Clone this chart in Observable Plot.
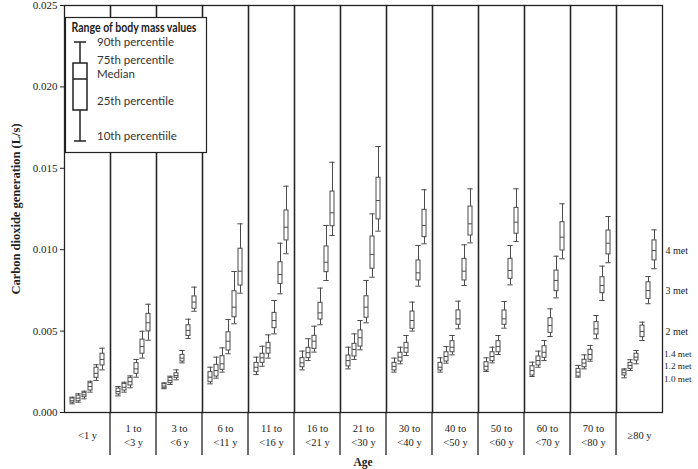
<!DOCTYPE html>
<html><head><meta charset="utf-8">
<script src="https://cdn.jsdelivr.net/npm/d3@7"></script>
<script src="https://cdn.jsdelivr.net/npm/@observablehq/plot@0.6"></script>
<style>
body{margin:0;background:#fff}
#wrap{position:relative;width:698px;height:469px;overflow:hidden}
#wrap svg{position:absolute;left:0;top:0}
g[aria-label="y-axis label"] text{font-weight:bold;font-size:12.5px}
</style></head><body><div id="wrap"></div>
<script>
// Age groups (x facets)
const groups = ["<1 y","1 to\n<3 y","3 to\n<6 y","6 to\n<11 y","11 to\n<16 y","16 to\n<21 y","21 to\n<30 y","30 to\n<40 y","40 to\n<50 y","50 to\n<60 y","60 to\n<70 y","70 to\n<80 y","\u226580 y"];
// Activity levels (boxes within each age group)
const mets = ["1.0","1.2","1.4","2","3","4"];
const metLabels = ["1.0 met","1.2 met","1.4 met","2 met","3 met","4 met"];
// Values in 10^-3 L/s, one row per age group, one column per met level
const p90 = [
  [0.94,1.15,1.31,1.92,2.93,3.95],
  [1.60,1.86,2.25,3.26,4.99,6.65],
  [1.82,2.23,2.62,3.81,5.73,7.70],
  [2.78,3.40,3.97,5.71,8.66,11.59],
  [3.40,4.07,4.77,6.88,10.40,13.90],
  [3.77,4.53,5.30,7.64,11.49,15.37],
  [4.01,4.83,5.65,8.11,12.20,16.34],
  [3.34,4.01,4.73,6.78,10.26,13.68],
  [3.36,4.05,4.73,6.84,10.30,13.74],
  [3.36,4.01,4.73,6.82,10.26,13.74],
  [3.09,3.77,4.42,6.37,9.60,12.82],
  [2.89,3.54,4.12,5.96,8.99,12.04],
  [2.68,3.24,3.81,5.55,8.35,11.22]
];
const p75 = [
  [0.86,1.04,1.21,1.80,2.75,3.61],
  [1.47,1.76,2.13,3.03,4.48,6.06],
  [1.74,2.13,2.41,3.54,5.36,7.13],
  [2.48,2.93,3.46,4.93,7.45,10.06],
  [3.05,3.61,4.28,6.12,9.23,12.41],
  [3.34,3.97,4.71,6.74,10.20,13.57],
  [3.50,4.22,5.04,7.14,10.81,14.42],
  [3.05,3.67,4.28,6.20,9.34,12.45],
  [3.05,3.70,4.38,6.27,9.44,12.65],
  [3.09,3.70,4.38,6.27,9.44,12.57],
  [2.84,3.44,4.07,5.79,8.72,11.69],
  [2.68,3.24,3.85,5.55,8.31,11.18],
  [2.58,3.05,3.61,5.34,8.00,10.57]
];
const p50 = [
  [0.72,0.88,1.09,1.60,2.41,3.26],
  [1.29,1.55,1.89,2.68,4.05,5.51],
  [1.62,1.97,2.27,3.34,5.04,6.78],
  [2.17,2.58,2.99,4.38,6.47,8.68],
  [2.78,3.36,3.97,5.65,8.48,11.38],
  [3.05,3.67,4.38,6.12,9.23,12.27],
  [3.19,3.87,4.59,6.47,9.71,13.02],
  [2.83,3.40,3.97,5.65,8.58,11.49],
  [2.78,3.44,4.01,5.75,8.68,11.59],
  [2.84,3.44,4.05,5.75,8.72,11.69],
  [2.58,3.19,3.70,5.34,8.11,10.77],
  [2.48,3.03,3.56,5.14,7.80,10.40],
  [2.44,2.89,3.40,4.98,7.49,9.95]
];
const p25 = [
  [0.60,0.69,0.94,1.35,2.13,2.89],
  [1.11,1.35,1.66,2.38,3.61,4.98],
  [1.49,1.80,2.13,3.13,4.70,6.37],
  [1.86,2.21,2.62,3.81,5.85,7.80],
  [2.48,3.05,3.61,5.18,7.90,10.57],
  [2.78,3.34,3.91,5.71,8.62,11.44],
  [2.83,3.44,4.05,5.82,8.83,11.86],
  [2.58,3.13,3.67,5.14,8.11,10.77],
  [2.58,3.13,3.70,5.39,8.11,10.87],
  [2.58,3.15,3.70,5.39,8.21,10.98],
  [2.27,2.89,3.36,4.89,7.45,9.95],
  [2.21,2.78,3.24,4.79,7.33,9.71],
  [2.27,2.68,3.19,4.63,6.98,9.34]
];
const p10 = [
  [0.53,0.63,0.84,1.25,1.97,2.62],
  [1.02,1.25,1.52,2.17,3.34,4.44],
  [1.46,1.72,2.01,3.05,4.55,6.22],
  [1.76,2.11,2.48,3.61,5.45,7.33],
  [2.33,2.84,3.34,4.83,7.29,9.75],
  [2.62,3.19,3.71,5.39,8.11,10.87],
  [2.68,3.26,3.85,5.51,8.31,11.14],
  [2.48,2.99,3.50,5.00,7.76,10.36],
  [2.48,3.03,3.54,5.14,7.80,10.42],
  [2.52,3.05,3.56,5.18,7.84,10.50],
  [2.21,2.78,3.19,4.67,7.04,9.44],
  [2.17,2.68,3.15,4.53,6.88,9.20],
  [2.13,2.58,2.99,4.42,6.68,8.83]
];
const yTicks = [0, 0.005, 0.010, 0.015, 0.020, 0.025];
const yLabel = "Carbon dioxide generation (L/s)";
const xLabel = "Age";
const legendTitle = "Range of body mass values";
const legendItems = ["90th percentile","75th percentile","Median","25th percentile","10th percentiile"];

const rows = [];
groups.forEach((g, i) => mets.forEach((m, j) => rows.push({
  group: g, met: m,
  p10: p10[i][j] / 1000, p25: p25[i][j] / 1000, p50: p50[i][j] / 1000,
  p75: p75[i][j] / 1000, p90: p90[i][j] / 1000
})));
const last = groups[groups.length - 1];
const ann = metLabels.map((t, j) => ({text: t, y: p50[groups.length - 1][j] / 1000, j}));

const boxStroke = "#4a4a4a";
const annOpts = {fx: () => last, y: "y", text: "text", frameAnchor: "right", textAnchor: "start", fill: "#222"};
const chart = Plot.plot({
  width: 698, height: 469,
  marginLeft: 58, marginRight: 30, marginTop: 5, marginBottom: 57,
  style: {fontFamily: "'Liberation Serif', 'Times New Roman', serif", fontSize: "11px", color: "#222", background: "#fff"},
  fx: {domain: groups, padding: 0, axis: null},
  x: {domain: mets, paddingInner: 0.33, paddingOuter: 0.6, axis: null},
  y: {domain: [0, 0.025]},
  marks: [
    Plot.ruleX(rows, {fx: "group", x: "met", y1: "p10", y2: "p90", stroke: boxStroke, strokeWidth: 1}),
    Plot.barY(rows, {fx: "group", x: "met", y1: "p25", y2: "p75", fill: "#fff", stroke: boxStroke, strokeWidth: 1}),
    Plot.tickY(rows, {fx: "group", x: "met", y: "p50", stroke: boxStroke, strokeWidth: 1}),
    Plot.tickY(rows, {fx: "group", x: "met", y: "p10", stroke: boxStroke, strokeWidth: 1, insetLeft: -0.7, insetRight: -0.7}),
    Plot.tickY(rows, {fx: "group", x: "met", y: "p90", stroke: boxStroke, strokeWidth: 1, insetLeft: -0.7, insetRight: -0.7}),
    Plot.frame({stroke: "#222", strokeWidth: 1.3}),
    Plot.axisY({ticks: yTicks, tickFormat: d3.format(".3f"), tickSize: 4, tickPadding: 3,
      label: yLabel, labelAnchor: "center", labelArrow: "none", labelOffset: 53}),
    Plot.text(groups, {fx: d => d, text: d => d, frameAnchor: "bottom", dy: 22, lineAnchor: "middle", lineHeight: 1.3, fill: "#222", fontSize: 10.5}),
    Plot.text(ann.filter(d => d.j >= 3), {...annOpts, dx: 3, fontSize: 10}),
    Plot.text(ann.filter(d => d.j === 2), {...annOpts, dx: 1.5, dy: -3, fontSize: 9.2}),
    Plot.text(ann.filter(d => d.j === 1), {...annOpts, dx: 1.5, dy: 1, fontSize: 9.2}),
    Plot.text(ann.filter(d => d.j === 0), {...annOpts, dx: 1.5, dy: 6, fontSize: 9.2})
  ]
});
const wrap = document.getElementById("wrap");
wrap.appendChild(chart);

// separators below the frame and the x title, from the library's scales
const fx = chart.scale("fx");
const yr = chart.scale("y").range;
const yBottom = Math.max(...yr);
const svg = d3.select(chart);
const sep = svg.append("g").attr("stroke", "#222").attr("stroke-width", 1.3);
groups.slice(1).forEach(g => {
  const x = fx.apply(g);
  sep.append("line").attr("x1", x).attr("x2", x).attr("y1", yBottom).attr("y2", yBottom + 43);
});
const fxr = fx.range;
svg.append("text").attr("x", (fxr[0] + fxr[1]) / 2).attr("y", yBottom + 54)
  .attr("text-anchor", "middle").attr("font-weight", "bold").attr("font-size", 11.5).attr("fill", "#222")
  .text(xLabel);

// legend overlay
const lg = d3.select(wrap).append("svg").attr("width", 698).attr("height", 469)
  .style("pointer-events", "none");
const lx = 65.5, ly = 17.5;
lg.append("rect").attr("x", lx).attr("y", ly).attr("width", 141).attr("height", 135)
  .attr("fill", "#fff").attr("stroke", "#222").attr("stroke-width", 1.2);
lg.append("text").attr("x", lx + 6).attr("y", ly + 14).attr("font-family", "Lato, 'Open Sans', sans-serif")
  .attr("font-weight", "bold").attr("font-size", 12.5).attr("fill", "#222")
  .attr("textLength", 125).attr("lengthAdjust", "spacingAndGlyphs").text(legendTitle);
const ic = lg.append("g").attr("stroke", "#222").attr("stroke-width", 1.5).attr("fill", "#fff");
ic.append("line").attr("x1", 80).attr("x2", 80).attr("y1", 42).attr("y2", 141);
ic.append("line").attr("x1", 74).attr("x2", 86).attr("y1", 42).attr("y2", 42);
ic.append("line").attr("x1", 74).attr("x2", 86).attr("y1", 141).attr("y2", 141);
ic.append("rect").attr("x", 73).attr("y", 63).attr("width", 14).attr("height", 47);
ic.append("line").attr("x1", 73).attr("x2", 87).attr("y1", 79).attr("y2", 79);
const itemY = [46, 64, 78, 105, 140];
legendItems.forEach((t, i) => {
  lg.append("text").attr("x", 97).attr("y", itemY[i]).attr("font-family", "Lato, 'Open Sans', sans-serif")
    .attr("font-size", 11.5).attr("fill", "#333").text(t);
});
</script></body></html>
